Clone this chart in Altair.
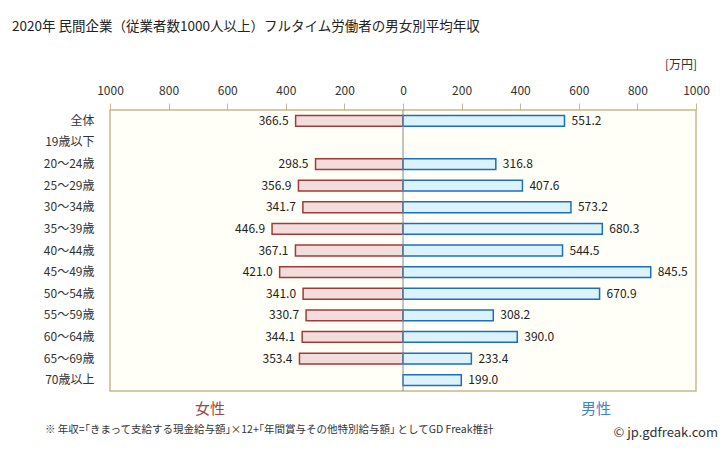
import altair as alt
import pandas as pd

categories = ["全体", "19歳以下", "20～24歳", "25～29歳", "30～34歳", "35～39歳", "40～44歳",
              "45～49歳", "50～54歳", "55～59歳", "60～64歳", "65～69歳", "70歳以上"]
female = [366.5, None, 298.5, 356.9, 341.7, 446.9, 367.1, 421.0, 341.0, 330.7, 344.1, 353.4, None]
male = [551.2, None, 316.8, 407.6, 573.2, 680.3, 544.5, 845.5, 670.9, 308.2, 390.0, 233.4, 199.0]
ticks = [-1000, -800, -600, -400, -200, 0, 200, 400, 600, 800, 1000]

rows = []
for c, f, m in zip(categories, female, male):
    if f is not None:
        rows.append({"cat": c, "sex": "女性", "value": f, "pos": -f, "label": f"{f:.1f}"})
    if m is not None:
        rows.append({"cat": c, "sex": "男性", "value": m, "pos": m, "label": f"{m:.1f}"})
df = pd.DataFrame(rows)

FONT = "Noto Sans CJK JP"
W, H = 586, 281

xscale = alt.Scale(domain=[-1000, 1000], nice=False, zero=False)
yscale = alt.Scale(domain=categories, paddingInner=0.5, paddingOuter=0.25)

base = alt.Chart(df)

bars = base.mark_bar(strokeWidth=1.5).encode(
    x=alt.X("pos:Q", scale=xscale,
            axis=alt.Axis(orient="top", values=ticks, labelExpr="abs(datum.value)",
                          title=None, grid=False, domain=False, tickSize=7,
                          tickColor="#c8b98a", labelPadding=6, labelFont=FONT,
                          labelFontSize=12, labelColor="#333333",
                          labelFlush=False, labelBound=False, labelOverlap=False)),
    x2=alt.datum(0),
    y=alt.Y("cat:N", scale=yscale, sort=categories,
            axis=alt.Axis(title=None, ticks=False, domain=False, labelPadding=16,
                          labelFont=FONT, labelFontSize=12, labelColor="#333333")),
    fill=alt.Fill("sex:N", scale=alt.Scale(domain=["女性", "男性"], range=["#f2dcdc", "#dcf3fd"]), legend=None),
    stroke=alt.Stroke("sex:N", scale=alt.Scale(domain=["女性", "男性"], range=["#a33a3a", "#1a6fc0"]), legend=None),
)

flabels = base.transform_filter(alt.datum.sex == "女性").mark_text(
    align="right", dx=-7, font=FONT, fontSize=12, color="#222222"
).encode(x=alt.X("pos:Q", scale=xscale), y=alt.Y("cat:N", scale=yscale, sort=categories), text="label:N")

mlabels = base.transform_filter(alt.datum.sex == "男性").mark_text(
    align="left", dx=7, font=FONT, fontSize=12, color="#222222"
).encode(x=alt.X("pos:Q", scale=xscale), y=alt.Y("cat:N", scale=yscale, sort=categories), text="label:N")

center = alt.Chart(pd.DataFrame({"x": [0]})).mark_rule(color="#888888", strokeWidth=1).encode(
    x=alt.X("x:Q", scale=xscale))

def txt(s, x, y, size, color, align="left", weight="normal"):
    return alt.Chart(pd.DataFrame({"t": [s]})).mark_text(
        align=align, baseline="middle", font=FONT, fontSize=size, color=color, fontWeight=weight
    ).encode(x=alt.value(x), y=alt.value(y), text="t:N")

ox, oy = 110, 110
annotations = [
    txt("2020年 民間企業（従業者数1000人以上）フルタイム労働者の男女別平均年収", 12 - ox, 27 - oy, 13.5, "#222222"),
    txt("[万円]", 697 - ox, 65 - oy, 12, "#333333", align="right"),
    txt("女性", 210 - ox, 409 - oy, 15, "#a04444", align="center"),
    txt("男性", 596 - ox, 409 - oy, 15, "#3a86c8", align="center"),
    txt("※ 年収=｢きまって支給する現金給与額｣×12+｢年間賞与その他特別給与額｣ としてGD Freak推計", 45 - ox, 430 - oy, 10.5, "#333333"),
    txt("© jp.gdfreak.com", 718 - ox, 433 - oy, 13, "#333333", align="right"),
]

chart = alt.layer(bars, center, flabels, mlabels, *annotations).properties(
    width=W, height=H,
    padding={"left": 110, "top": 110, "right": 32, "bottom": 60},
    autosize=alt.AutoSizeParams(type="none"),
    background="white",
).configure_view(stroke="#c8b98a", strokeWidth=1.5, fill="#fffff8")

chart.save("out.html", embed_options={"renderer": "svg", "actions": False})
